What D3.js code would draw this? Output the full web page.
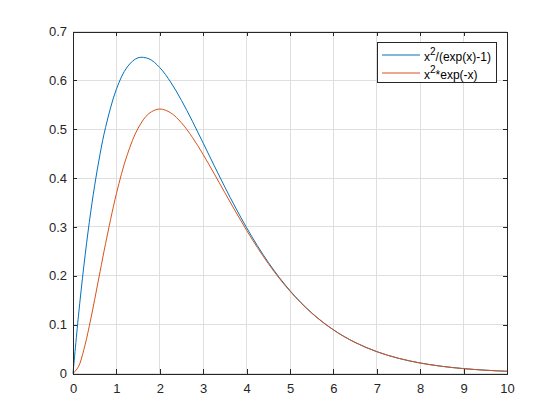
<!DOCTYPE html>
<html><head><meta charset="utf-8">
<script src="https://cdn.jsdelivr.net/npm/d3@7"></script>
<style>html,body{margin:0;padding:0;background:#fff;}svg{display:block;font-family:"Liberation Sans",Arial,Helvetica,sans-serif;}</style>
</head><body>
<svg id="chart" width="560" height="420"></svg>
<script>
const xs = [0,0.125,0.25,0.375,0.5,0.625,0.75,1,1.25,1.5,1.75,2,2.25,2.5,2.75,3,3.25,3.5,3.75,4,4.25,4.5,4.75,5,5.25,5.5,5.75,6,6.25,6.5,6.75,7,7.25,7.5,7.75,8,8.25,8.5,8.75,9,9.25,9.5,9.75,10];
const planck = [0,0.11735,0.22005,0.30907,0.38538,0.44990,0.50358,0.58198,0.62742,0.64624,0.64411,0.62607,0.59645,0.55891,0.51647,0.47156,0.42608,0.38144,0.33868,0.29852,0.26138,0.22749,0.19691,0.16959,0.14540,0.12413,0.10557,0.08946,0.07555,0.06362,0.05341,0.04472,0.03735,0.03113,0.02588,0.02148,0.01779,0.01470,0.01213,0.01000,0.00822,0.00676,0.00554,0.00454];
const wien = [0,0.01379,0.04868,0.09665,0.15163,0.20909,0.26571,0.36788,0.44766,0.50204,0.53218,0.54134,0.53358,0.51303,0.48345,0.44808,0.40956,0.36992,0.33072,0.29305,0.25765,0.22496,0.19520,0.16845,0.14464,0.12362,0.10523,0.08924,0.07541,0.06352,0.05335,0.04468,0.03733,0.03111,0.02587,0.02147,0.01778,0.01470,0.01213,0.01000,0.00822,0.00676,0.00554,0.00454];
const xTicks = [0,1,2,3,4,5,6,7,8,9,10];
const yTicks = [0,0.1,0.2,0.3,0.4,0.5,0.6,0.7];
const seriesNames = ["planck","wien"];

const svg = d3.select("#chart");
const L = 73, R = 507, T = 31.5, B = 373.5;
const x = d3.scaleLinear().domain([0,10]).range([L,R]);
const y = d3.scaleLinear().domain([0,0.7]).range([B,T]);
const axisCol = "#262626";

// grid
const g = svg.append("g");
g.selectAll(".gx").data(xTicks).join("line")
  .attr("x1", d=>x(d)).attr("x2", d=>x(d)).attr("y1", T).attr("y2", B)
  .attr("stroke", "#dfdfdf").attr("stroke-width", 1).attr("shape-rendering","crispEdges");
g.selectAll(".gy").data(yTicks).join("line")
  .attr("x1", L).attr("x2", R).attr("y1", d=>y(d)).attr("y2", d=>y(d))
  .attr("stroke", "#dfdfdf").attr("stroke-width", 1).attr("shape-rendering","crispEdges");

// lines
const line = (vals) => d3.line().x((d,i)=>x(xs[i])).y(d=>y(d)).curve(d3.curveCatmullRom.alpha(0.5))(vals);
svg.append("path").attr("d", line(planck)).attr("fill","none").attr("stroke","#0072BD").attr("stroke-width",1);
svg.append("path").attr("d", line(wien)).attr("fill","none").attr("stroke","#D95319").attr("stroke-width",1);

// axes
const tl = 4.3;
const xa = svg.append("g").attr("transform",`translate(0,${B})`)
  .call(d3.axisBottom(x).tickValues(xTicks).tickSizeInner(-tl).tickSizeOuter(0).tickPadding(10).tickFormat(d=>String(d)));
const xt = svg.append("g").attr("transform",`translate(0,${T})`)
  .call(d3.axisTop(x).tickValues(xTicks).tickSizeInner(-tl).tickSizeOuter(0).tickFormat(""));
const ya = svg.append("g").attr("transform",`translate(${L},0)`)
  .call(d3.axisLeft(y).tickValues(yTicks).tickSizeInner(-tl).tickSizeOuter(0).tickPadding(6).tickFormat(d=>String(+d.toFixed(1))));
const yr = svg.append("g").attr("transform",`translate(${R},0)`)
  .call(d3.axisRight(y).tickValues(yTicks).tickSizeInner(-tl).tickSizeOuter(0).tickFormat(""));
[xa,xt,ya,yr].forEach(a=>{
  a.selectAll("path").attr("stroke",axisCol).attr("stroke-width",1).attr("shape-rendering","crispEdges");
  a.selectAll("line").attr("stroke",axisCol).attr("shape-rendering","crispEdges");
  a.selectAll("text").attr("fill",axisCol).attr("font-size","13px").attr("font-family",'"Liberation Sans",Arial,sans-serif');
});
xa.selectAll("text").attr("dy","0.71em");

// legend
const lg = svg.append("g");
lg.append("rect").attr("x",377.5).attr("y",42.5).attr("width",119).attr("height",40)
  .attr("fill","#fff").attr("stroke",axisCol).attr("stroke-width",1);
const legendItems = [
  {name: seriesNames[0], col:"#0072BD", base:"x", rest:"/(exp(x)-1)"},
  {name: seriesNames[1], col:"#D95319", base:"x", rest:"*exp(-x)"}
];
legendItems.forEach((it,i)=>{
  const yy = 55 + i*18;
  lg.append("line").attr("x1",382).attr("x2",420).attr("y1",yy).attr("y2",yy).attr("stroke",it.col).attr("stroke-width",1);
  const t = lg.append("text").attr("x",424).attr("y",yy+6).attr("font-size","12px").attr("fill","#000");
  t.append("tspan").text(it.base);
  t.append("tspan").attr("dy",-6.5).attr("font-size","10px").text("2");
  t.append("tspan").attr("dy",6.5).text(it.rest);
});
</script>
</body></html>
